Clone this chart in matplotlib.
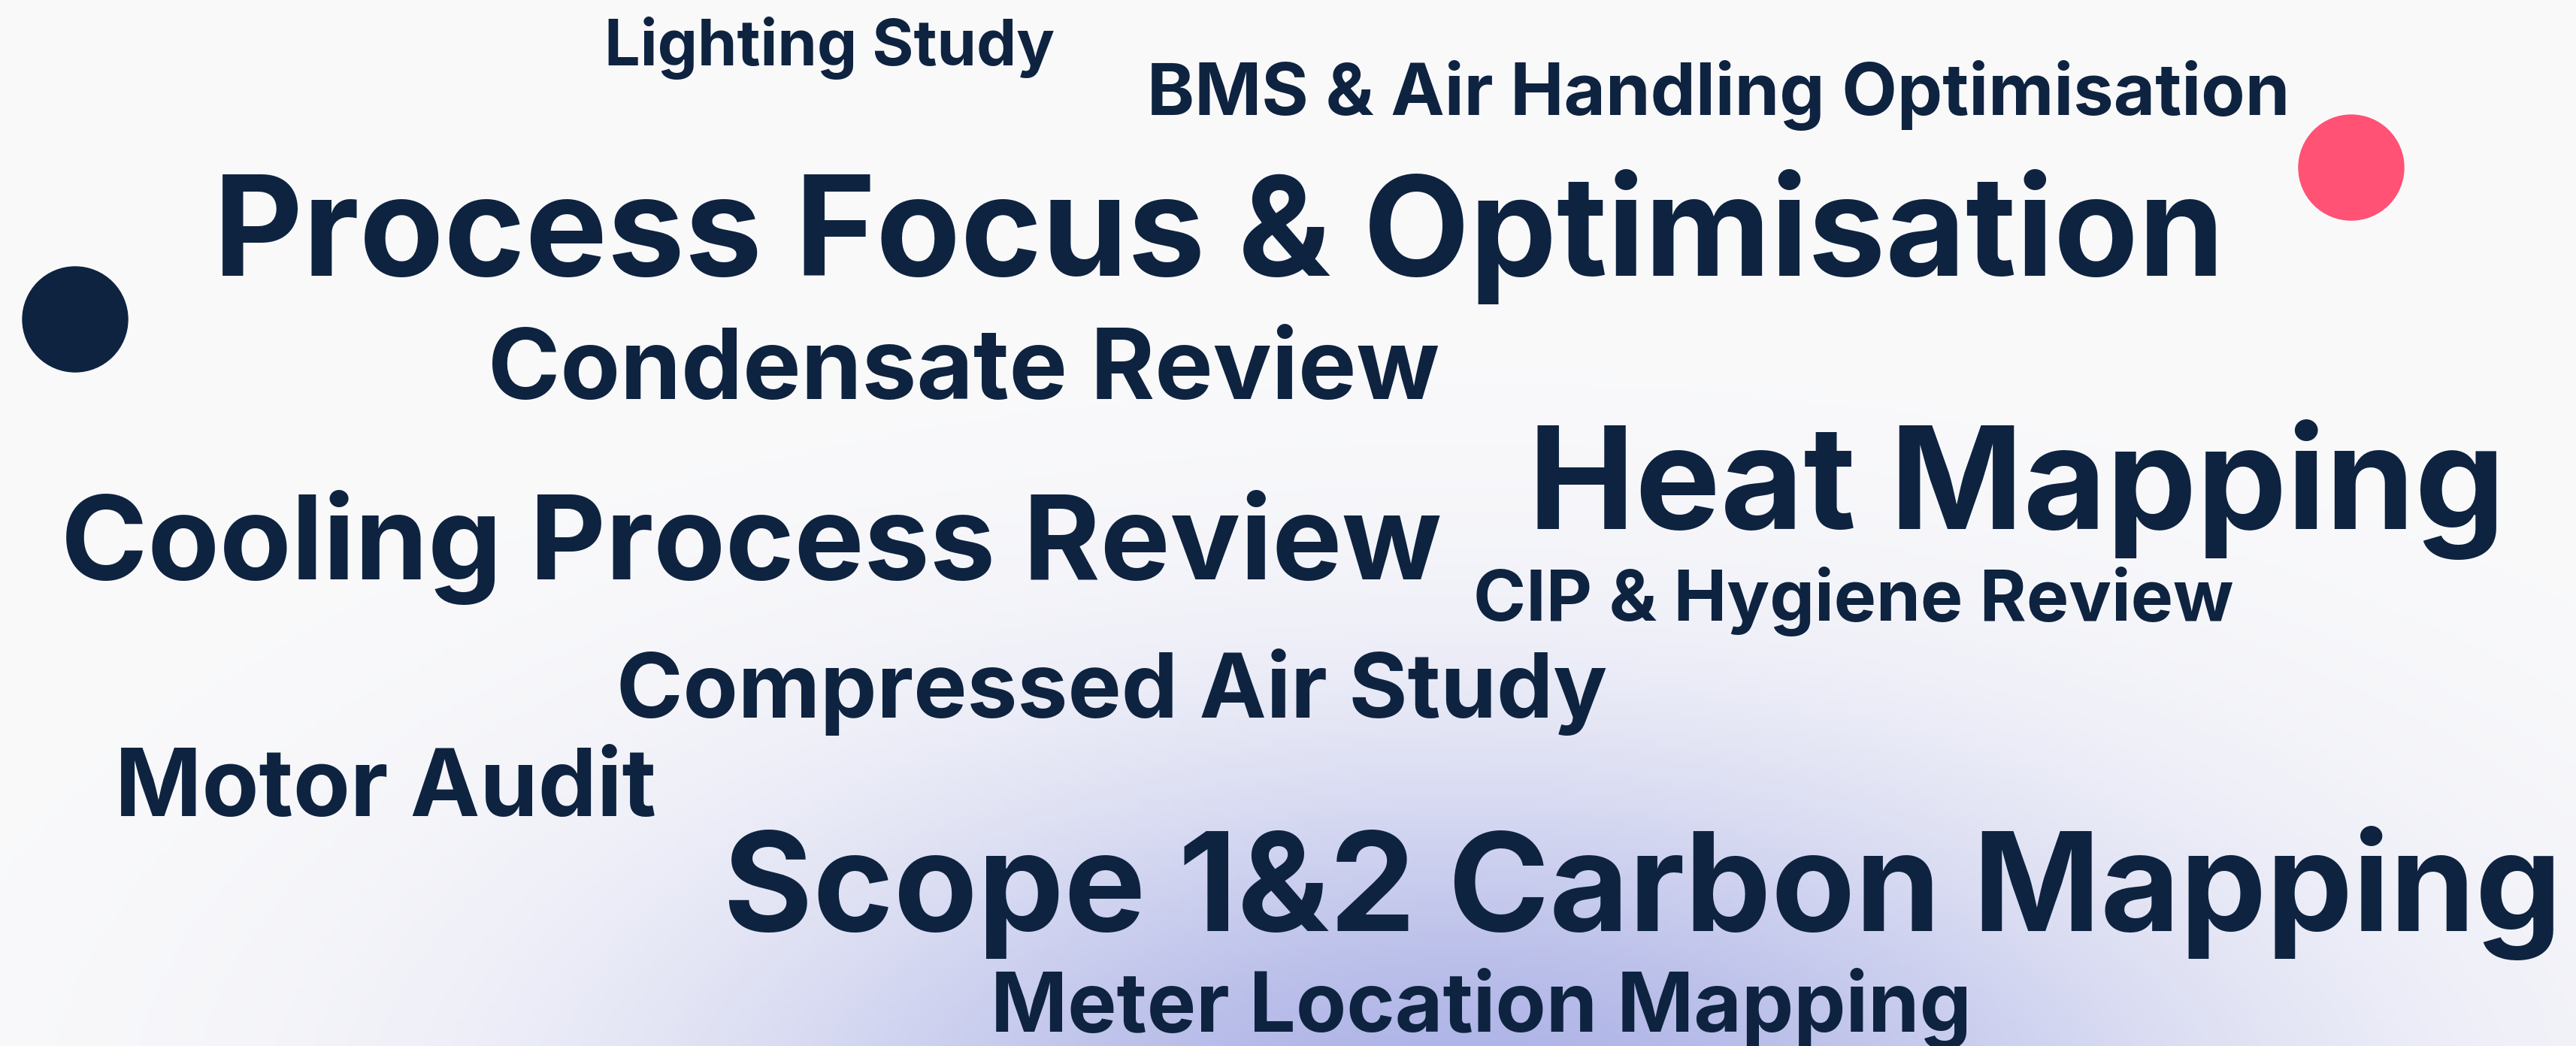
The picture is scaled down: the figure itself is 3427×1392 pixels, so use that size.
import numpy as np
import matplotlib
matplotlib.use('Agg')
import matplotlib.pyplot as plt
from matplotlib.patches import Circle

# words of the cloud, roughly in reading order
words = ['Lighting Study', 'BMS & Air Handling Optimisation',
         'Process Focus & Optimisation', 'Condensate Review',
         'Heat Mapping', 'Cooling Process Review', 'CIP & Hygiene Review',
         'Compressed Air Study', 'Motor Audit', 'Scope 1&2 Carbon Mapping',
         'Meter Location Mapping']
# layout (pixels): left edge, baseline, right edge
x_left = [804, 1526, 284, 649, 2033, 81, 1960, 820, 153, 962, 1318]
baseline = [87, 153, 367, 531, 704, 771, 826, 955, 1086, 1239, 1373]
x_right = [1403, 3047, 2961, 1915, 3333, 1919, 2972, 2138, 874, 3409, 2623]

W, H = 3427, 1392
navy = '#0e2340'
pink = '#ff5274'

fig = plt.figure(figsize=(W/100, H/100), dpi=100)
ax = fig.add_axes([0, 0, 1, 1])
ax.set_xlim(0, W)
ax.set_ylim(H, 0)
ax.axis('off')

# background: near white with a lavender glow rising from the bottom
xx, yy = np.meshgrid(np.linspace(0, W, 400), np.linspace(0, H, 200))
glow = np.exp(-((xx-1950)/1000)**2 - ((yy-1500)/480)**2)
base = np.array([250, 250, 251])/255
lav = np.array([172, 178, 230])/255
img = base[None, None, :]*(1-glow[..., None]) + lav[None, None, :]*glow[..., None]
ax.imshow(img, extent=[0, W, H, 0], aspect='auto', zorder=0)

ax.add_patch(Circle((100, 425), 70, color=navy, zorder=2))
ax.add_patch(Circle((3128, 223), 70, color=pink, zorder=2))

fig.canvas.draw()
r = fig.canvas.get_renderer()
for w, x0, yb, x1 in zip(words, x_left, baseline, x_right):
    t = ax.text(x0, yb, w, ha='left', va='baseline', color=navy,
                fontsize=50, fontweight='bold', family=['Inter', 'DejaVu Sans'],
                zorder=3)
    bb = t.get_window_extent(renderer=r)
    t.set_fontsize(50*(x1-x0)/bb.width)

fig.savefig('out.png', dpi=100)
plt.close(fig)
